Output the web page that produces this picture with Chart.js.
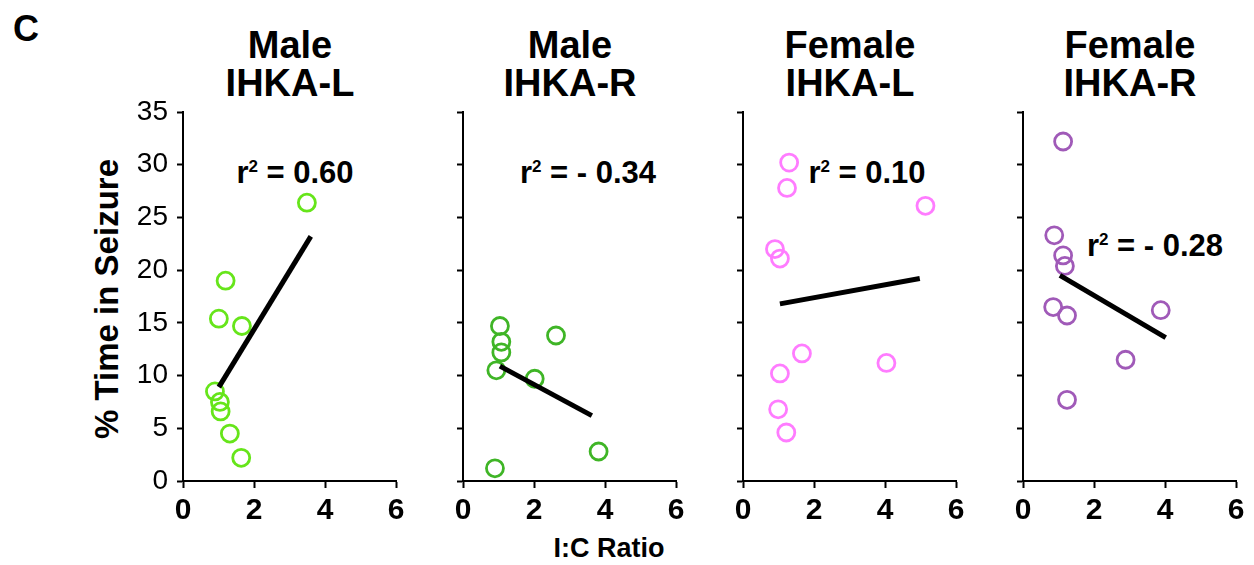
<!DOCTYPE html>
<html>
<head>
<meta charset="utf-8">
<script src="https://cdn.jsdelivr.net/npm/chart.js@4"></script>
<style>
  body { margin: 0; width: 1254px; height: 565px; overflow: hidden; background: #fff;
         font-family: "Liberation Sans", Arial, sans-serif; color: #000; }
  canvas { position: absolute; top: 0; }
  .txt { position: absolute; font-weight: bold; white-space: nowrap; transform: translate(-50%, -50%); }
  .title { font-size: 38px; line-height: 38px; text-align: center; }
  .r2 { font-size: 31px; }
  .r2 sup { font-size: 17px; position: relative; top: -11px; vertical-align: baseline; }
</style>
</head>
<body>
<div class="txt" style="left:26px;top:29px;font-size:36px;">C</div>

<div class="txt title" style="left:290px;top:64px;">Male<br>IHKA-L</div>
<div class="txt title" style="left:570px;top:64px;">Male<br>IHKA-R</div>
<div class="txt title" style="left:850px;top:64px;">Female<br>IHKA-L</div>
<div class="txt title" style="left:1130px;top:64px;">Female<br>IHKA-R</div>

<div class="txt r2" style="left:295px;top:173px;">r<sup>2</sup> = 0.60</div>
<div class="txt r2" style="left:588px;top:173px;">r<sup>2</sup> = - 0.34</div>
<div class="txt r2" style="left:867px;top:173px;">r<sup>2</sup> = 0.10</div>
<div class="txt r2" style="left:1155px;top:246px;">r<sup>2</sup> = - 0.28</div>

<div class="txt" style="left:107px;top:299px;font-size:33px;transform:translate(-50%,-50%) rotate(-90deg);">% Time in Seizure</div>
<div class="txt" style="left:609px;top:548px;font-size:27px;">I:C Ratio</div>

<canvas id="c1"></canvas>
<canvas id="c2"></canvas>
<canvas id="c3"></canvas>
<canvas id="c4"></canvas>

<script>
// axis ticks
const xTicks = [0, 2, 4, 6];
const yTicks = [0, 5, 10, 15, 20, 25, 30, 35];

// Male IHKA-L
const maleLX = [3.49, 1.20, 1.01, 1.66, 0.90, 1.04, 1.06, 1.32, 1.64];
const maleLY = [26.4, 19.0, 15.4, 14.7, 8.5, 7.5, 6.6, 4.5, 2.2];
const maleLFitX = [1.01, 3.6];
const maleLFitY = [8.9, 23.2];

// Male IHKA-R
const maleRX = [1.04, 1.08, 1.08, 0.94, 2.62, 2.02, 3.82, 0.90];
const maleRY = [14.7, 13.2, 12.2, 10.5, 13.8, 9.7, 2.8, 1.2];
const maleRFitX = [1.04, 3.63];
const maleRFitY = [10.9, 6.2];

// Female IHKA-L
const femaleLX = [1.30, 1.24, 0.90, 1.04, 5.14, 1.66, 4.04, 1.04, 0.99, 1.22];
const femaleLY = [30.2, 27.8, 22.0, 21.1, 26.1, 12.1, 11.2, 10.2, 6.8, 4.6];
const femaleLFitX = [1.04, 4.98];
const femaleLFitY = [16.8, 19.2];

// Female IHKA-R
const femaleRX = [1.13, 0.88, 1.13, 1.18, 0.85, 1.24, 3.88, 2.89, 1.24];
const femaleRY = [32.2, 23.3, 21.4, 20.4, 16.5, 15.7, 16.2, 11.5, 7.7];
const femaleRFitX = [1.04, 4.02];
const femaleRFitY = [19.5, 13.6];

const FONT = '"Liberation Sans", Arial, sans-serif';

function pts(xs, ys) {
    return xs.map((x, i) => ({ x: x, y: ys[i] }));
}

// panel layout: axis position on the page, plot area 213 x 369
const panels = [
    { id: 'c1', axisX: 183, yw: 183, width: 416, xs: maleLX, ys: maleLY, fx: maleLFitX, fy: maleLFitY, color: '#66e51a', labels: true },
    { id: 'c2', axisX: 463, yw: 40, width: 268, xs: maleRX, ys: maleRY, fx: maleRFitX, fy: maleRFitY, color: '#3fb526', labels: false },
    { id: 'c3', axisX: 743, yw: 40, width: 268, xs: femaleLX, ys: femaleLY, fx: femaleLFitX, fy: femaleLFitY, color: '#ff7cff', labels: false },
    { id: 'c4', axisX: 1023, yw: 40, width: 268, xs: femaleRX, ys: femaleRY, fx: femaleRFitX, fy: femaleRFitY, color: '#a05ab8', labels: false }
];

panels.forEach(p => {
    const canvas = document.getElementById(p.id);
    canvas.style.left = (p.axisX - p.yw) + 'px';
    canvas.style.width = p.width + 'px';
    canvas.style.height = '565px';
    canvas.width = p.width;
    canvas.height = 565;

    new Chart(canvas.getContext('2d'), {
        type: 'scatter',
        data: {
            datasets: [
                {
                    data: pts(p.fx, p.fy),
                    showLine: true,
                    borderColor: '#000',
                    borderWidth: 5,
                    pointRadius: 0,
                    borderCapStyle: 'butt'
                },
                {
                    data: pts(p.xs, p.ys),
                    pointRadius: 8.5,
                    pointBorderWidth: 2.8,
                    pointBorderColor: p.color,
                    pointBackgroundColor: 'rgba(0,0,0,0)'
                }
            ]
        },
        options: {
            responsive: false,
            animation: false,
            clip: false,
            layout: { padding: { top: 112, right: p.width - p.yw - 213, bottom: 0, left: 0 } },
            plugins: { legend: { display: false }, tooltip: { enabled: false } },
            scales: {
                x: {
                    type: 'linear',
                    min: 0, max: 6,
                    afterBuildTicks: axis => { axis.ticks = xTicks.map(v => ({ value: v })); },
                    afterFit: axis => { axis.height = 84; },
                    grid: { drawOnChartArea: false, drawTicks: true, tickLength: 7, tickWidth: 2, color: '#000' },
                    border: { display: true, color: '#000', width: 2 },
                    ticks: { color: '#000', padding: 5, font: { family: FONT, size: 30, weight: 'bold' } }
                },
                y: {
                    type: 'linear',
                    min: 0, max: 35,
                    afterBuildTicks: axis => { axis.ticks = yTicks.map(v => ({ value: v })); },
                    afterFit: axis => { axis.width = p.yw; },
                    grid: { drawOnChartArea: false, drawTicks: true, tickLength: 6, tickWidth: 2, color: '#000' },
                    border: { display: true, color: '#000', width: 2 },
                    ticks: {
                        color: '#000', padding: 9,
                        font: { family: FONT, size: 28 },
                        callback: v => p.labels ? v : ''
                    }
                }
            }
        }
    });
});
</script>
</body>
</html>
